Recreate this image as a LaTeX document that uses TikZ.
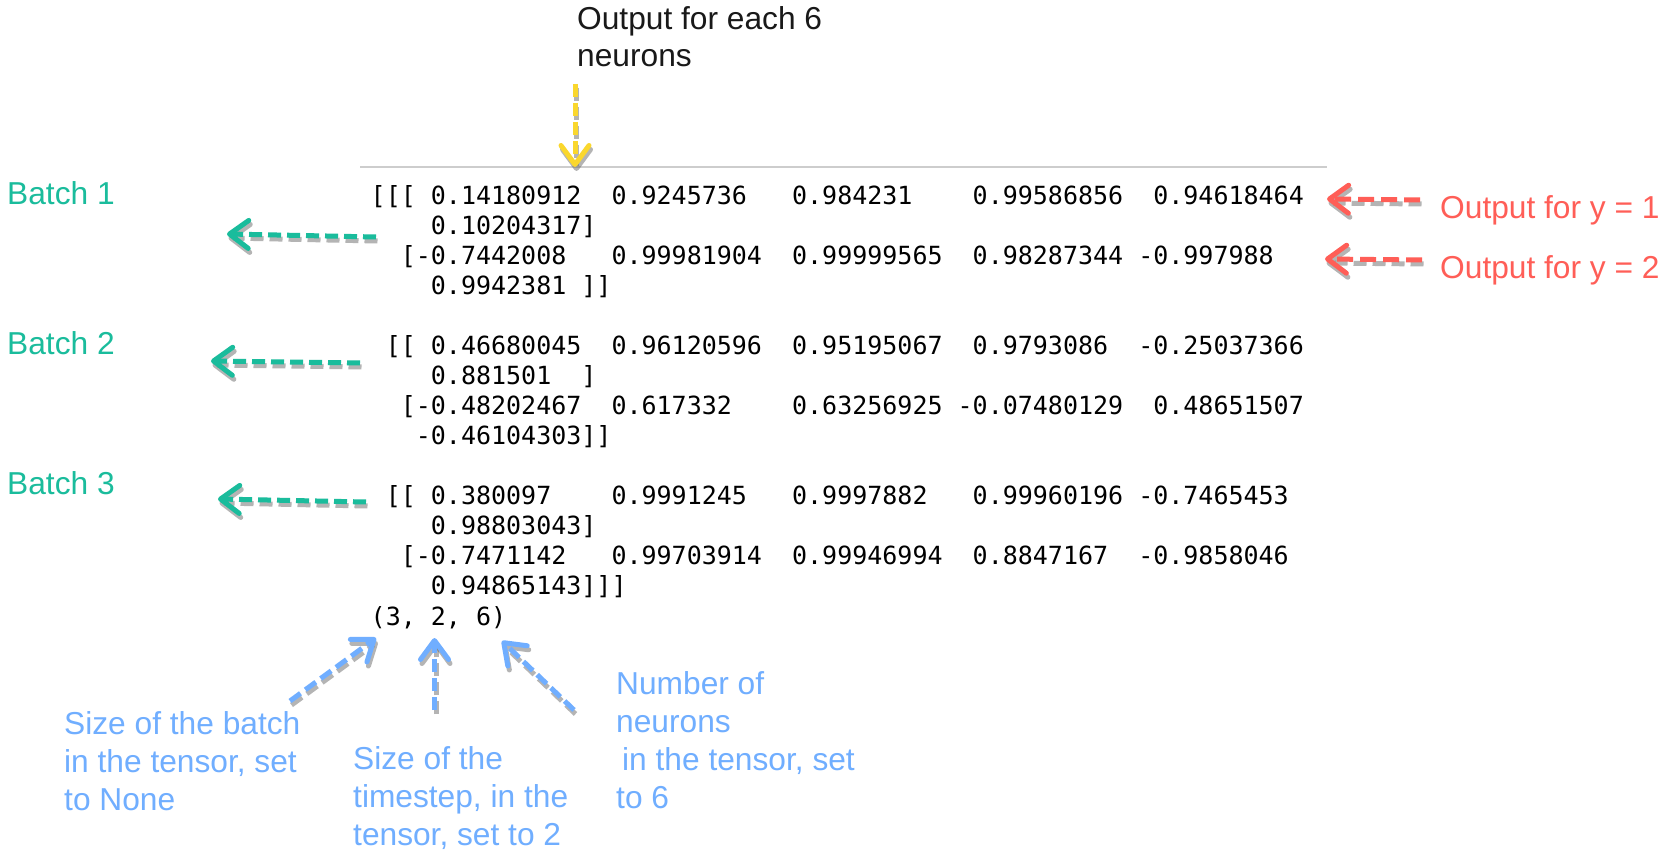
\documentclass[tikz,border=0pt]{standalone}
\usepackage{fontspec}
\setmainfont{Liberation Sans}
\newfontfamily\monof{DejaVu Sans Mono}
\usetikzlibrary{arrows.meta}
\definecolor{tealc}{RGB}{26,188,156}
\definecolor{redc}{RGB}{255,94,87}
\definecolor{bluec}{RGB}{112,174,255}
\definecolor{yelc}{RGB}{250,215,45}
\definecolor{txtc}{RGB}{25,25,25}
\definecolor{rulec}{RGB}{205,205,205}
\begin{document}
\begin{tikzpicture}[x=1pt,y=-1pt,
  lbl/.style={inner sep=0pt, anchor=base west, font=\fontsize{31.7}{37.7}\selectfont, align=left},
  mono/.style={inner sep=0pt, anchor=base west, font=\monof\fontsize{25.0}{29.9}\selectfont},
  arr/.style={line width=5pt, dash pattern=on 13pt off 6pt,
    -{Straight Barb[length=19pt,width=28pt,line cap=round,line join=round]}},
  shad/.style={draw=black!65, opacity=0.45, transform canvas={shift={(1.5pt,-4pt)}}},
]
\fill[white] (0,0) rectangle (1674,858);
\useasboundingbox (0,0) rectangle (1674,858);

% top label and rule (multi-line nodes: base = last line)
\node[lbl, text=txtc] (top) at (577,67) {Output for each 6\\neurons};
\coordinate (ruleL) at (360,167.5);
\coordinate (ruleR) at (1327,167.5);
\draw[rulec, line width=2pt] (ruleL) -- (ruleR);

% tensor print-out
\node[mono] (l1) at (370.5,205) {[[[~0.14180912~~0.9245736~~~0.984231~~~~0.99586856~~0.94618464};
\node[mono] (l2) at (370.5,235) {~~~~0.10204317]};
\node[mono] (l3) at (370.5,265) {~~[-0.7442008~~~0.99981904~~0.99999565~~0.98287344~-0.997988};
\node[mono] (l4) at (370.5,295) {~~~~0.9942381~]]};
\node[mono] (l5) at (370.5,354.4) {~[[~0.46680045~~0.96120596~~0.95195067~~0.9793086~~-0.25037366};
\node[mono] (l6) at (370.5,384.3) {~~~~0.881501~~]};
\node[mono] (l7) at (370.5,414.2) {~~[-0.48202467~~0.617332~~~~0.63256925~-0.07480129~~0.48651507};
\node[mono] (l8) at (370.5,444.1) {~~~-0.46104303]]};
\node[mono] (l9) at (370.5,504.9) {~[[~0.380097~~~~0.9991245~~~0.9997882~~~0.99960196~-0.7465453};
\node[mono] (l10) at (370.5,534.8) {~~~~0.98803043]};
\node[mono] (l11) at (370.5,564.7) {~~[-0.7471142~~~0.99703914~~0.99946994~~0.8847167~~-0.9858046};
\node[mono] (l12) at (370.5,594.6) {~~~~0.94865143]]]};
\node[mono] (shape) at (370.5,625.6) {(3,~2,~6)};

% batch labels
\node[lbl, text=tealc] (b1) at (7,205) {Batch 1};
\node[lbl, text=tealc] (b2) at (7,355) {Batch 2};
\node[lbl, text=tealc] (b3) at (7,494) {Batch 3};

% output labels
\node[lbl, text=redc] (o1) at (1440,219) {Output for y = 1};
\node[lbl, text=redc] (o2) at (1440,279) {Output for y = 2};

% bottom labels (base = last line)
\node[lbl, text=bluec] (sb) at (64,810) {Size of the batch\\in the tensor, set\\to None};
\node[lbl, text=bluec] (st) at (353,845) {Size of the\\timestep, in the\\tensor, set to 2};
\node[lbl, text=bluec] (nn) at (616,808) {Number of\\neurons\\\hspace*{6pt}in the tensor, set\\to 6};

% arrow end points
\coordinate (yA) at (575,84);   \coordinate (yB) at (575,167);
\coordinate (t1A) at (376,237); \coordinate (t1B) at (227,234);
\coordinate (t2A) at (360,363); \coordinate (t2B) at (211,361);
\coordinate (t3A) at (366,502); \coordinate (t3B) at (218,499);
\coordinate (r1A) at (1420,200); \coordinate (r1B) at (1327,199);
\coordinate (r2A) at (1422,260); \coordinate (r2B) at (1325,259);
\coordinate (u1A) at (290,701); \coordinate (u1B) at (376,638);
\coordinate (u2A) at (434.5,710); \coordinate (u2B) at (434.5,638);
\coordinate (u3A) at (574,710); \coordinate (u3B) at (502,641);

% shadows
\foreach \a/\b in {yA/yB,t1A/t1B,t2A/t2B,t3A/t3B,r1A/r1B,r2A/r2B,u1A/u1B,u2A/u2B,u3A/u3B}
  \draw[arr, shad] (\a) -- (\b);

% arrows
\draw[arr, yelc] (yA) -- (yB);
\draw[arr, tealc] (t1A) -- (t1B);
\draw[arr, tealc] (t2A) -- (t2B);
\draw[arr, tealc] (t3A) -- (t3B);
\draw[arr, redc, dash pattern=on 16pt off 7pt] (r1A) -- (r1B);
\draw[arr, redc, dash pattern=on 16pt off 7pt] (r2A) -- (r2B);
\draw[arr, bluec] (u1A) -- (u1B);
\draw[arr, bluec] (u2A) -- (u2B);
\draw[arr, bluec] (u3A) -- (u3B);
\end{tikzpicture}
\end{document}
